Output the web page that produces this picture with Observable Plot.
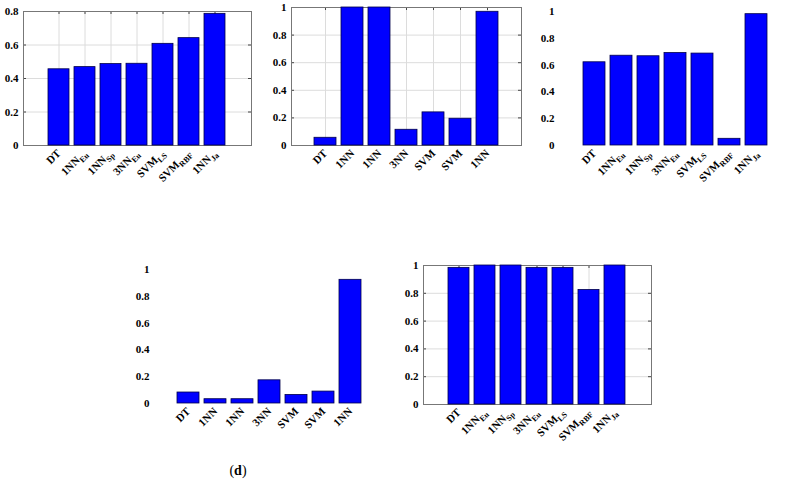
<!DOCTYPE html>
<html>
<head>
<meta charset="utf-8">
<script src="https://cdn.jsdelivr.net/npm/d3@7"></script>
<script src="https://cdn.jsdelivr.net/npm/@observablehq/plot@0.6"></script>
<style>
  html, body { margin: 0; padding: 0; background: #fff; }
  #page { position: relative; width: 794px; height: 485px; overflow: hidden; font-family: "Liberation Serif", "Times New Roman", serif; }
  .panel { position: absolute; }
  .cap { position: absolute; font-size: 14px; transform: translateX(-50%); white-space: nowrap; }
  .cap b { font-weight: bold; }
</style>
</head>
<body>
<div id="page"></div>
<script>
// ---- data ----
const models = ["DT", "1NN_Eu", "1NN_Sp", "3NN_Eu", "SVM_LS", "SVM_RBF", "1NN_Ja"];
const labelMain = ["DT", "1NN", "1NN", "3NN", "SVM", "SVM", "1NN"];
const labelSub = ["", "Eu", "Sp", "Eu", "LS", "RBF", "Ja"];

const valuesA = [0.455, 0.468, 0.486, 0.488, 0.607, 0.641, 0.786];
const valuesB = [0.056, 1.0, 1.0, 0.114, 0.240, 0.194, 0.969];
const valuesC = [0.621, 0.670, 0.666, 0.690, 0.686, 0.050, 0.980];
const valuesD = [0.082, 0.032, 0.032, 0.173, 0.064, 0.089, 0.923];
const valuesE = [0.983, 1.0, 1.0, 0.983, 0.983, 0.824, 1.0];

const ticksA = [0, 0.2, 0.4, 0.6, 0.8];
const ticksB = [0, 0.2, 0.4, 0.6, 0.8, 1];
const panelLetters = ["a", "b", "c", "d", "e"];

const panels = [
  {values: valuesA, ticks: ticksA, max: 0.8, left: 23, top: 11, fw: 228, fh: 134, capX: 107, capY: 205, deco: true, subs: true, cap: false},
  {values: valuesB, ticks: ticksB, max: 1, left: 291, top: 7, fw: 230, fh: 138, capX: 375, capY: 203, deco: true, subs: false, cap: false},
  {values: valuesC, ticks: ticksB, max: 1, left: 559, top: 11, fw: 232, fh: 134, capX: 643, capY: 205, deco: false, subs: true, cap: false},
  {values: valuesD, ticks: ticksB, max: 1, left: 154, top: 269, fw: 229, fh: 134, capX: 238, capY: 463, deco: false, subs: false, cap: true},
  {values: valuesE, ticks: ticksB, max: 1, left: 423, top: 265, fw: 228, fh: 139, capX: 507, capY: 463, deco: true, subs: true, cap: false}
];

const page = document.getElementById("page");
const mL = 34, mR = 6, mT = 6, mB = 70;
const serif = "'Liberation Serif', 'Times New Roman', serif";

panels.forEach((p, k) => {
  const rows = models.map((m, i) => ({model: m, value: p.values[i]}));
  const deco = p.deco ? [
      Plot.gridY(p.ticks, {stroke: "#dcdcdc", strokeOpacity: 1}),
      Plot.gridX(models, {stroke: "#dcdcdc", strokeOpacity: 1}),
      Plot.tickY(p.ticks, {y: d => d, insetRight: p.fw - 3, stroke: "#444"}),
      Plot.tickY(p.ticks, {y: d => d, insetLeft: p.fw - 3, stroke: "#444"}),
      Plot.tickX(models, {x: d => d, insetBottom: p.fh - 3, stroke: "#444"}),
      Plot.frame({stroke: "#777", strokeWidth: 1})
  ] : [];
  const chart = Plot.plot({
    width: p.fw + mL + mR,
    height: p.fh + mT + mB,
    marginLeft: mL, marginRight: mR, marginTop: mT, marginBottom: mB,
    style: {fontFamily: serif, fontSize: "11px", fontWeight: "bold", color: "#000", background: "transparent", overflow: "visible"},
    x: {type: "band", domain: models, paddingInner: 0.19, paddingOuter: 0.82},
    y: {domain: [0, p.max]},
    marks: [
      ...deco,
      Plot.barY(rows, {x: "model", y: "value", fill: "#0000ff", stroke: "#00004a", strokeWidth: 0.8}),
      Plot.axisY(p.ticks, {tickSize: 0, tickPadding: 5, tickFormat: d => String(d), label: null, fontWeight: "bold", fontSize: 11, fontFamily: serif}),
      Plot.axisX(models, {tickSize: 0, tickPadding: 6, tickRotate: -45, label: null, tickFormat: d => labelMain[models.indexOf(d)], fontWeight: "bold", fontSize: 11, fontFamily: serif})
    ]
  });
  if (p.subs) {
    const texts = chart.querySelectorAll('g[aria-label="x-axis tick label"] text');
    texts.forEach((t, i) => {
      const sub = labelSub[i];
      if (!sub) return;
      t.textContent = "";
      const a = document.createElementNS("http://www.w3.org/2000/svg", "tspan");
      a.textContent = labelMain[i];
      const s = document.createElementNS("http://www.w3.org/2000/svg", "tspan");
      s.textContent = sub;
      s.setAttribute("font-size", "8");
      s.setAttribute("dy", "3");
      t.appendChild(a);
      t.appendChild(s);
    });
  }
  chart.classList.add("panel");
  chart.style.left = (p.left - mL) + "px";
  chart.style.top = (p.top - mT) + "px";
  page.appendChild(chart);
  if (p.cap) {
    const cap = document.createElement("div");
    cap.className = "cap";
    cap.style.left = p.capX + "px";
    cap.style.top = p.capY + "px";
    cap.innerHTML = "(<b>" + panelLetters[k] + "</b>)";
    page.appendChild(cap);
  }
});
</script>
</body>
</html>
